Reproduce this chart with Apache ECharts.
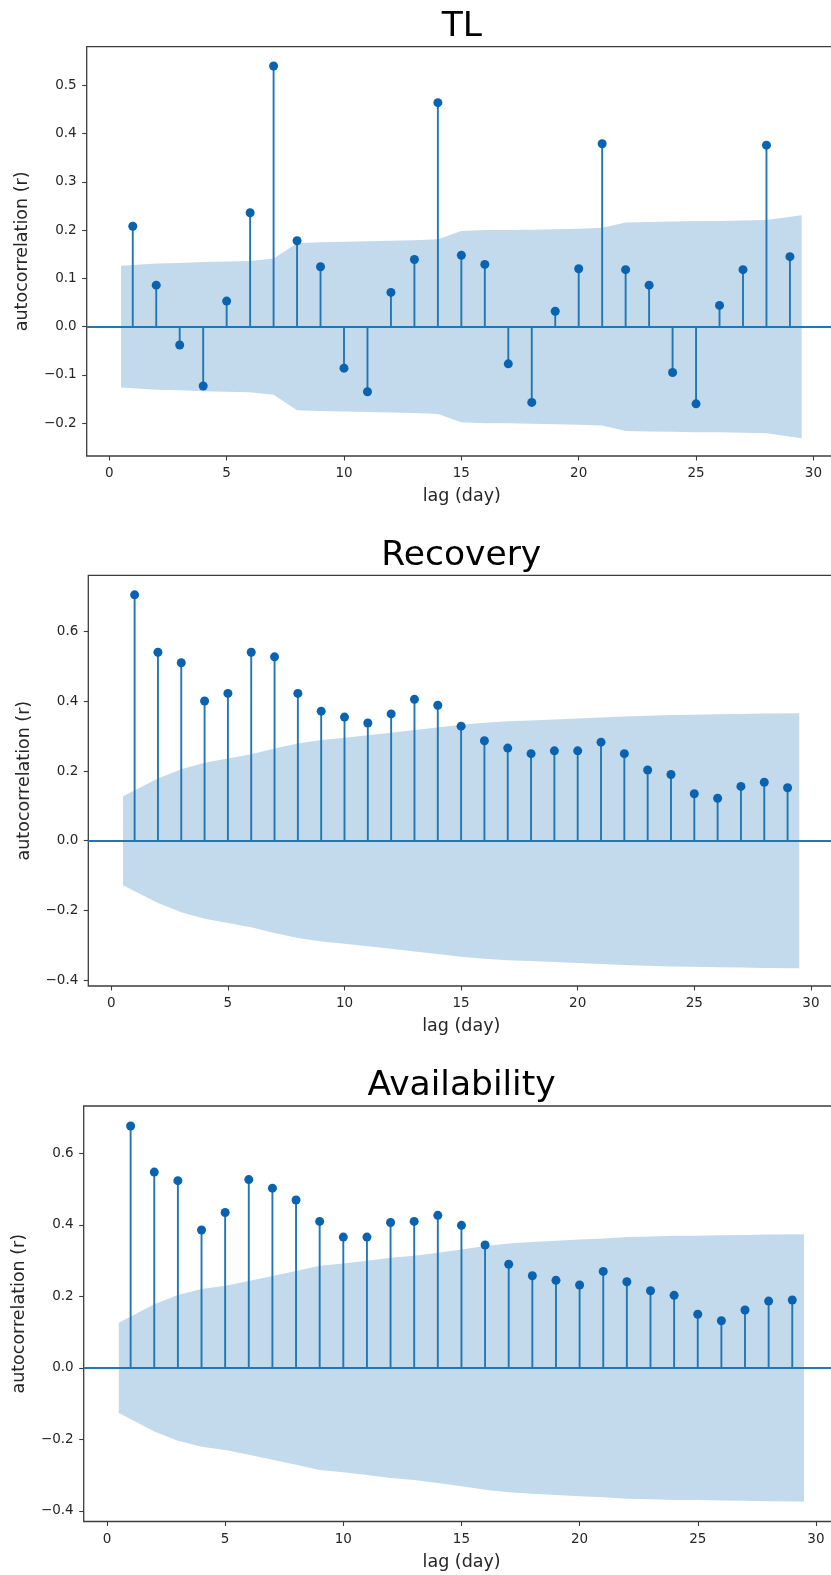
<!DOCTYPE html>
<html><head><meta charset="utf-8">
<script src="https://cdn.jsdelivr.net/npm/echarts@6/dist/echarts.min.js"></script>
<style>html,body{margin:0;padding:0;background:#fff}#c{width:831px;height:1575px}</style>
</head><body><div id="c"></div>
<script>
// ---------------- data ----------------
const lags = [1,2,3,4,5,6,7,8,9,10,11,12,13,14,15,16,17,18,19,20,21,22,23,24,25,26,27,28,29];
const titles = ['TL', 'Recovery', 'Availability'];

const acfTL = [0.208,0.086,-0.038,-0.123,0.053,0.236,0.540,0.178,0.124,-0.086,-0.135,0.071,0.139,0.464,
  0.148,0.129,-0.077,-0.157,0.032,0.120,0.379,0.118,0.086,-0.095,-0.160,0.044,0.118,0.376,0.145];
const acfRecovery = [0.706,0.541,0.511,0.401,0.423,0.541,0.528,0.423,0.372,0.355,0.338,0.364,0.406,0.389,
  0.329,0.287,0.266,0.250,0.258,0.258,0.283,0.250,0.203,0.190,0.135,0.122,0.156,0.168,0.152];
const acfAvailability = [0.677,0.548,0.524,0.386,0.435,0.527,0.503,0.470,0.410,0.366,0.366,0.407,0.410,0.427,
  0.399,0.344,0.290,0.258,0.245,0.232,0.270,0.241,0.216,0.203,0.150,0.132,0.162,0.187,0.190];

// confidence band (half width), x positions of the band
const bandX = [0.5,2,3,4,5,6,7,8,9,10,11,12,13,14,15,16,17,18,19,20,21,22,23,24,25,26,27,28,29.5];
const bandTL = [0.126,0.131,0.132,0.134,0.135,0.136,0.141,0.173,0.175,0.176,0.177,0.178,0.179,0.181,
  0.198,0.200,0.200,0.201,0.202,0.203,0.205,0.216,0.217,0.218,0.219,0.219,0.220,0.221,0.231];
const bandRecovery = [0.128,0.179,0.205,0.224,0.236,0.248,0.265,0.279,0.289,0.296,0.303,0.310,0.318,0.325,
  0.333,0.339,0.343,0.345,0.348,0.351,0.354,0.357,0.359,0.361,0.362,0.363,0.364,0.365,0.366];
const bandAvailability = [0.126,0.178,0.204,0.221,0.230,0.243,0.257,0.271,0.286,0.292,0.300,0.308,0.314,0.322,
  0.331,0.341,0.348,0.352,0.356,0.359,0.362,0.366,0.368,0.370,0.370,0.371,0.372,0.373,0.374];

const xTicks = [0,5,10,15,20,25,30];
const yTicksTL = [-0.2,-0.1,0.0,0.1,0.2,0.3,0.4,0.5];
const yTicksRecovery = [-0.4,-0.2,0.0,0.2,0.4,0.6];
const yTicksAvailability = [-0.4,-0.2,0.0,0.2,0.4,0.6];

const xLabel = 'lag (day)';
const yLabel = 'autocorrelation (r)';

// ---------------- layout ----------------
const FONT = '"DejaVu Sans", sans-serif';
const panels = [
  {acf: acfTL, band: bandTL, yTicks: yTicksTL, top: 46.7, bottom: 456, left: 86.7, x0: 109.3, unit: 23.47,
   yMin: -0.268, yMax: 0.580, titleBase: 37},
  {acf: acfRecovery, band: bandRecovery, yTicks: yTicksRecovery, top: 575.3, bottom: 986, left: 88.3, x0: 111.3, unit: 23.32,
   yMin: -0.417, yMax: 0.762, titleBase: 566},
  {acf: acfAvailability, band: bandAvailability, yTicks: yTicksAvailability, top: 1106, bottom: 1521.5, left: 83.7, x0: 107, unit: 23.63,
   yMin: -0.430, yMax: 0.733, titleBase: 1096}
];
const X_MAX = 31;
const STEM = '#1f77b4', DOT = '#0a63b0', BAND = 'rgba(31,119,180,0.27)';
const fmt = v => v.toFixed(1).replace('-', '\u2212');

const grids = [], xAxes = [], yAxes = [], series = [], graphics = [];
panels.forEach((p, k) => {
  const xMin = (p.left - p.x0) / p.unit;
  const width = (X_MAX - xMin) * p.unit;
  grids.push({left: p.left, top: p.top, width: width, height: p.bottom - p.top,
    show: true, borderColor: '#3d3d3d', borderWidth: 1.3, backgroundColor: 'transparent',
    containLabel: false, outerBoundsMode: 'none'});
  xAxes.push({type: 'value', gridIndex: k, min: xMin, max: X_MAX,
    axisLine: {show: false, onZero: false},
    axisTick: {show: true, length: 4.5, lineStyle: {color: '#3d3d3d', width: 1.1}, customValues: xTicks},
    axisLabel: {customValues: xTicks, margin: 10.5, fontSize: 13.5, color: '#262626', fontFamily: FONT},
    splitLine: {show: false},
    name: xLabel, nameLocation: 'middle', nameGap: 31.5,
    nameTextStyle: {fontSize: 17.5, color: '#262626', fontFamily: FONT}});
  yAxes.push({type: 'value', gridIndex: k, min: p.yMin, max: p.yMax,
    axisLine: {show: false, onZero: false},
    axisTick: {show: true, length: 4.5, lineStyle: {color: '#3d3d3d', width: 1.1}, customValues: p.yTicks},
    axisLabel: {customValues: p.yTicks, margin: 10, fontSize: 13.5, color: '#262626', fontFamily: FONT, formatter: fmt},
    splitLine: {show: false},
    name: yLabel, nameLocation: 'middle', nameGap: 55, nameRotate: 90,
    nameTextStyle: {fontSize: 17.5, color: '#262626', fontFamily: FONT}});

  const pts = lags.map((l, i) => [l, p.acf[i]]);
  // confidence band
  series.push({type: 'custom', xAxisIndex: k, yAxisIndex: k, silent: true, z: 1,
    data: [[bandX[0], 0]],
    renderItem: (params, api) => {
      const poly = [];
      bandX.forEach((x, i) => poly.push(api.coord([x, p.band[i]])));
      for (let i = bandX.length - 1; i >= 0; i--) poly.push(api.coord([bandX[i], -p.band[i]]));
      return {type: 'polygon', shape: {points: poly}, style: {fill: BAND}};
    }});
  // stems
  series.push({type: 'custom', xAxisIndex: k, yAxisIndex: k, silent: true, z: 2,
    data: pts,
    renderItem: (params, api) => {
      const a = api.coord([api.value(0), 0]);
      const b = api.coord([api.value(0), api.value(1)]);
      return {type: 'line', shape: {x1: a[0], y1: a[1], x2: b[0], y2: b[1]},
        style: {stroke: STEM, lineWidth: 1.9}};
    }});
  // markers + zero line
  series.push({type: 'scatter', xAxisIndex: k, yAxisIndex: k, silent: true, z: 4,
    data: pts, symbol: 'circle', symbolSize: 9, itemStyle: {color: DOT, opacity: 1},
    markLine: {silent: true, symbol: ['none', 'none'], label: {show: false}, animation: false,
      lineStyle: {color: STEM, width: 2.2, type: 'solid', opacity: 1}, data: [{yAxis: 0}], z: 3}});

  // title
  const cx = p.left + width / 2;
  graphics.push({type: 'text', x: cx, y: p.titleBase - 0.297 * 34.5,
    style: {text: titles[k], font: '34.5px ' + FONT, fill: '#000', align: 'center', verticalAlign: 'middle'}});
});

const chart = echarts.init(document.getElementById('c'), null, {renderer: 'canvas'});
chart.setOption({
  animation: false,
  backgroundColor: '#fff',
  grid: grids, xAxis: xAxes, yAxis: yAxes, series: series, graphic: graphics
});
</script>
</body></html>
